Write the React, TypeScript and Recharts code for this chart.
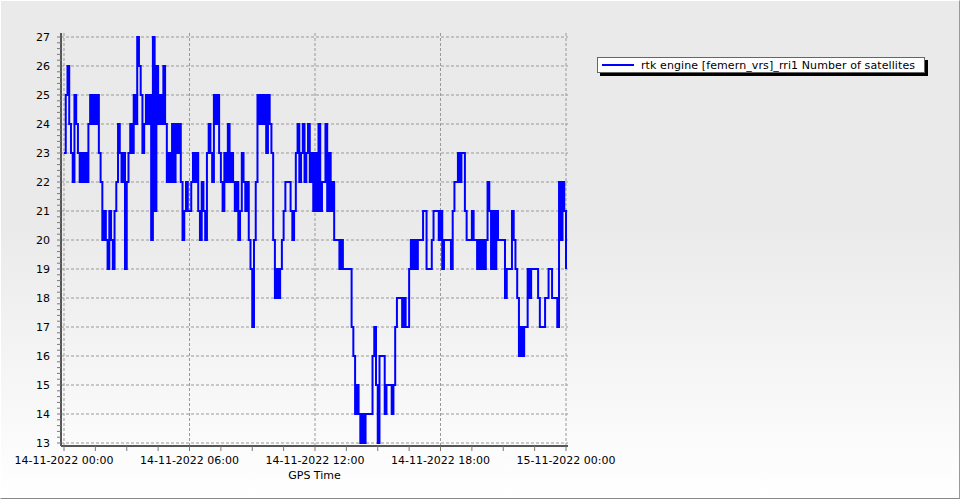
import { LineChart, Line, XAxis, YAxis, Legend, ReferenceLine } from 'recharts';

// satellites, one value every 5 minutes
const sampleMinutes = 5;
const sats00to06 = [
  23, 25, 26, 24, 23, 22, 25, 24, 23, 22, 23, 22,
  23, 22, 24, 25, 24, 25, 24, 25, 23, 22, 20, 21,
  20, 19, 21, 20, 19, 21, 22, 24, 23, 22, 23, 19,
  22, 23, 24, 23, 25, 24, 27, 26, 25, 23, 24, 25,
  24, 25, 20, 27, 21, 26, 24, 25, 24, 26, 24, 22,
  23, 22, 24, 22, 24, 23, 24, 22, 20, 21, 22, 21,
];
const sats06to12 = [
  21, 22, 23, 22, 23, 21, 20, 22, 21, 20, 23, 24,
  23, 22, 25, 24, 25, 23, 22, 21, 23, 22, 24, 22,
  23, 22, 21, 22, 20, 21, 23, 22, 21, 22, 20, 19,
  17, 20, 22, 25, 24, 25, 24, 25, 23, 25, 24, 23,
  20, 18, 19, 18, 19, 20, 21, 22, 22, 22, 21, 20,
  21, 23, 24, 22, 23, 24, 22, 23, 24, 22, 23, 21,
];
const sats12to18 = [
  23, 21, 24, 21, 22, 22, 24, 21, 23, 21, 22, 20,
  20, 20, 19, 20, 19, 19, 19, 19, 19, 17, 16, 14,
  15, 14, 13, 14, 13, 14, 14, 14, 14, 16, 17, 15,
  13, 16, 16, 16, 14, 15, 15, 15, 14, 15, 17, 18,
  18, 18, 17, 18, 17, 17, 19, 20, 19, 20, 19, 20,
  20, 20, 21, 21, 19, 19, 19, 20, 21, 21, 21, 20,
];
const sats18to24 = [
  21, 19, 20, 20, 20, 20, 19, 21, 22, 22, 23, 22,
  23, 23, 21, 20, 20, 20, 21, 20, 20, 19, 20, 19,
  20, 19, 20, 22, 21, 19, 21, 19, 21, 20, 20, 20,
  20, 18, 19, 19, 19, 21, 20, 19, 18, 16, 17, 16,
  17, 17, 19, 18, 19, 19, 19, 19, 18, 17, 17, 17,
  18, 18, 19, 19, 18, 18, 18, 17, 22, 20, 22, 21,
];
const lastValue = 19;

const xTickMinutes = [0, 360, 720, 1080, 1440];
const xTickLabels = [
  '14-11-2022 00:00',
  '14-11-2022 06:00',
  '14-11-2022 12:00',
  '14-11-2022 18:00',
  '15-11-2022 00:00',
];
const xMinorTicks = [0, 90, 180, 270, 360, 450, 540, 630, 720, 810, 900, 990, 1080, 1170, 1260, 1350, 1440];
const yTicks = [13, 14, 15, 16, 17, 18, 19, 20, 21, 22, 23, 24, 25, 26, 27];
const seriesName = 'rtk engine [femern_vrs]_rri1 Number of satellites';

const allSats = [...sats00to06, ...sats06to12, ...sats12to18, ...sats18to24, lastValue];
const chartData = allSats.map((sats, i) => ({ minute: i * sampleMinutes, sats }));

// minor ticks on the y axis every 0.2
const yMinorTicks: number[] = [];
yTicks.forEach((v, i) => {
  yMinorTicks.push(v);
  if (i < yTicks.length - 1) {
    for (let k = 1; k < 5; k++) yMinorTicks.push(v + k / 5);
  }
});

const gridStyle = { stroke: '#999', strokeDasharray: '3 2' };

function XTick(props: any) {
  const { x, y, payload } = props;
  const idx = xTickMinutes.indexOf(payload.value);
  if (idx < 0) return null;
  return (
    <text x={x} y={y} dy="0.71em" textAnchor="middle" fill="#000" fontSize={11}>
      {xTickLabels[idx]}
    </text>
  );
}

function YTick(props: any) {
  const { x, y, payload } = props;
  const v = payload.value;
  if (Math.abs(v - Math.round(v)) > 1e-6) return null;
  return (
    <text x={x} y={y} dy="0.355em" textAnchor="end" fill="#000" fontSize={11}>
      {Math.round(v)}
    </text>
  );
}

function LegendBox() {
  return (
    <div
      style={{
        background: '#fff',
        border: '1px solid #666',
        boxShadow: '3px 3px 0 #000',
        height: 14,
        display: 'flex',
        alignItems: 'center',
        padding: '0 9px 0 4px',
        fontSize: 11,
        letterSpacing: 0.1,
        whiteSpace: 'nowrap',
        color: '#000',
      }}
    >
      <svg width={32} height={4} style={{ display: 'block' }}>
        <line x1={0} y1={2} x2={32} y2={2} stroke="#0000ff" strokeWidth={2} />
      </svg>
      <span style={{ marginLeft: 7 }}>{seriesName}</span>
    </div>
  );
}

export default function App() {
  return (
    <div
      style={{
        position: 'absolute',
        left: 0,
        top: 0,
        width: 958,
        height: 497,
        background: 'linear-gradient(to bottom, #eaeaea 0%, #eaeaea 45%, #ffffff 100%)',
        borderTop: '1px solid #fff',
        borderLeft: '1px solid #fff',
        borderRight: '1px solid #999',
        borderBottom: '1px solid #888',
        fontFamily: '"DejaVu Sans", Verdana, sans-serif',
      }}
    >
      <LineChart
        width={958}
        height={497}
        data={chartData}
        margin={{ top: 32, right: 391, bottom: 12, left: 0 }}
      >
        {yTicks.map((v) => (
          <ReferenceLine key={`h${v}`} y={v} {...gridStyle} />
        ))}
        {xTickMinutes.map((m) => (
          <ReferenceLine key={`v${m}`} x={m} {...gridStyle} />
        ))}
        <XAxis
          dataKey="minute"
          type="number"
          domain={[0, 1440]}
          ticks={xMinorTicks}
          interval={0}
          tick={<XTick />}
          tickSize={5}
          tickMargin={5}
          height={40}
          padding={{ left: 3, right: 2 }}
          axisLine={{ stroke: '#555', strokeWidth: 2 }}
          tickLine={{ stroke: '#777' }}
          label={{ value: 'GPS Time', position: 'insideBottom', offset: 7, fill: '#000', fontSize: 11 }}
        />
        <YAxis
          type="number"
          domain={[13, 27]}
          ticks={yMinorTicks}
          interval={0}
          tick={<YTick />}
          tickSize={4}
          tickMargin={7}
          width={60}
          padding={{ top: 4, bottom: 3 }}
          axisLine={{ stroke: '#555', strokeWidth: 2 }}
          tickLine={{ stroke: '#777' }}
        />
        <Legend
          layout="vertical"
          align="center"
          verticalAlign="middle"
          content={<LegendBox />}
          wrapperStyle={{ top: 56, left: 596, width: 'auto' }}
        />
        <Line
          type="stepAfter"
          dataKey="sats"
          name={seriesName}
          stroke="#0000ff"
          strokeWidth={2}
          dot={false}
          isAnimationActive={false}
        />
      </LineChart>
    </div>
  );
}
